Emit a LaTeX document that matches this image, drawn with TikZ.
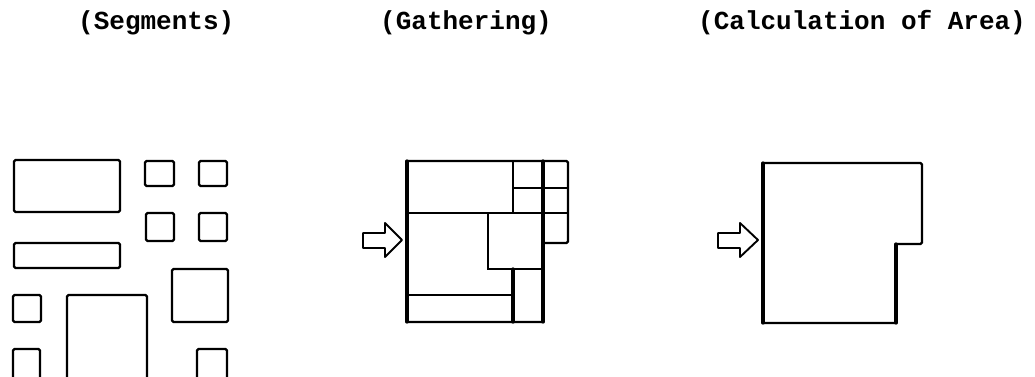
\documentclass[tikz,border=0pt]{standalone}
\usepackage{fontspec}
\setmonofont{Liberation Mono}
\begin{document}
\begin{tikzpicture}[x=1pt,y=-1pt,
  outline/.style={line width=2.4pt,line join=round,line cap=round,rounded corners=1.5pt},
  thin/.style={line width=1.8pt,line cap=round},
  thick/.style={line width=3.2pt,line cap=round},
  blockarrow/.style={line width=1.9pt,line join=round},
  title/.style={font=\ttfamily\bfseries\fontsize{26}{29}\selectfont,inner sep=0pt,anchor=west}]
\useasboundingbox (0,0) rectangle (1035,377);
\fill[white] (0,0) rectangle (1035,377);

% headings
\node[title] (tseg) at (78,23) {(Segments)};
\node[title] (tgat) at (380,23) {(Gathering)};
\node[title] (tarea) at (698,23) {(Calculation of Area)};

% ---- segments ----
\draw[outline] (14,160) rectangle (120,212);
\draw[outline] (145,161) rectangle (174,186);
\draw[outline] (199,161) rectangle (227,186);
\draw[outline] (146,213) rectangle (174,241);
\draw[outline] (199,213) rectangle (227,241);
\draw[outline] (14,243) rectangle (120,268);
\draw[outline] (172,269) rectangle (228,322);
\draw[outline] (13,295) rectangle (41,322);
\draw[outline] (67,380) -- (67,295) -- (147,295) -- (147,380);
\draw[outline] (13,380) -- (13,349) -- (40,349) -- (40,380);
\draw[outline] (197,380) -- (197,349) -- (227,349) -- (227,380);

% ---- gathering ----
\draw[blockarrow] (363,233) -- (385,233) -- (385,223) -- (402,240)
  -- (385,257) -- (385,248) -- (363,248) -- cycle;
\draw[outline] (407,161) -- (568,161) -- (568,243) -- (543,243)
  -- (543,322) -- (407,322) -- cycle;
\draw[thick] (407,161) -- (407,322);
\draw[thick] (543,161) -- (543,322);
\draw[thin] (513,161) -- (513,213);
\draw[thin] (407,213) -- (568,213);
\draw[thin] (513,188) -- (568,188);
\draw[thin] (488,213) -- (488,269) -- (543,269);
\draw[thick] (513,269) -- (513,322);
\draw[thin] (407,295) -- (513,295);

% ---- area ----
\draw[blockarrow] (718,233) -- (740,233) -- (740,223) -- (758,240)
  -- (740,257) -- (740,248) -- (718,248) -- cycle;
\draw[outline] (763,163) -- (922,163) -- (922,244) -- (896,244)
  -- (896,323) -- (763,323) -- cycle;
\draw[thick] (763,163) -- (763,323);
\draw[thick] (896,244) -- (896,323);
\end{tikzpicture}
\end{document}
